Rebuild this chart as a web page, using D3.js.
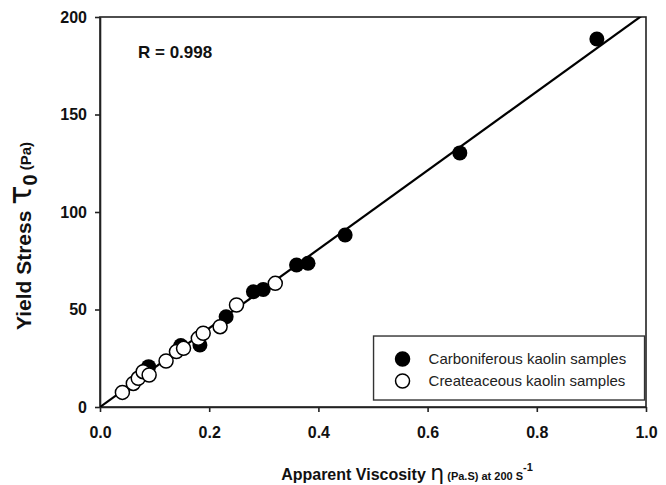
<!DOCTYPE html>
<html>
<head>
<meta charset="utf-8">
<script src="https://cdn.jsdelivr.net/npm/d3@7"></script>
<style>
  body { margin: 0; background: #fff; }
  text { font-family: Arial, "Liberation Sans", sans-serif; fill: #111; }
  .ejes path, .ejes line { stroke: #222; stroke-width: 1.6; }
  .ejes text { font-size: 16px; font-weight: bold; }
  .greek { font-family: "DejaVu Sans", sans-serif; font-weight: normal; }
</style>
</head>
<body>
<div id="graf"></div>
<script>
// Carboniferous (filled) samples: viscosity (Pa.S) and yield stress (Pa)
const carbVisc = [0.089, 0.148, 0.183, 0.231, 0.281, 0.299, 0.360, 0.381, 0.449, 0.659, 0.910]
const carbStress = [20.7, 31.5, 31.8, 46.3, 59.1, 60.3, 72.8, 73.7, 88.2, 130.3, 188.7]
// Createaceous (open) samples
const creaVisc = [0.041, 0.061, 0.070, 0.079, 0.090, 0.121, 0.140, 0.153, 0.180, 0.189, 0.220, 0.250, 0.321]
const creaStress = [7.5, 12.1, 14.7, 18.1, 16.4, 23.6, 28.4, 30.1, 35.2, 37.8, 41.2, 52.3, 63.4]
// regression line
const fitSlope = 202.2
const fitX = [0, 1.0]
const xTicks = [0, 0.2, 0.4, 0.6, 0.8, 1.0]
const yTicks = [0, 50, 100, 150, 200]
const rLabel = "R = 0.998"
const seriesNames = ["Carboniferous kaolin samples", "Createaceous kaolin samples"]

const margins = { left: 100, top: 17, right: 20, bottom: 78 }
const anchoTotal = 666
const altoTotal = 485
const ancho = anchoTotal - margins.left - margins.right
const alto = altoTotal - margins.top - margins.bottom

const svg = d3.select("#graf")
  .append("svg")
  .attr("width", anchoTotal)
  .attr("height", altoTotal)

const g = svg.append("g")
  .attr("transform", `translate(${margins.left}, ${margins.top})`)

const x = d3.scaleLinear().domain([0, 1]).range([0, ancho])
const y = d3.scaleLinear().domain([0, 200]).range([alto, 0])

g.append("clipPath")
  .attr("id", "clip")
  .append("rect")
  .attr("width", ancho)
  .attr("height", alto)

// frame
g.append("rect")
  .attr("width", ancho)
  .attr("height", alto)
  .attr("fill", "none")
  .attr("stroke", "#222")
  .attr("stroke-width", 1.6)

const xAxis = d3.axisBottom(x).tickValues(xTicks).tickFormat(d3.format(".1f")).tickSize(5).tickPadding(15).tickSizeOuter(0)
const yAxis = d3.axisLeft(y).tickValues(yTicks).tickFormat(d3.format("d")).tickSize(5).tickPadding(8).tickSizeOuter(0)

g.append("g")
  .attr("class", "ejes")
  .attr("transform", `translate(0, ${alto})`)
  .call(xAxis)
g.append("g").attr("class", "ejes").call(yAxis)

// regression line
const fitData = fitX.map((v) => ({ v: v, s: v * fitSlope }))
g.append("path")
  .datum(fitData)
  .attr("clip-path", "url(#clip)")
  .attr("fill", "none")
  .attr("stroke", "#000")
  .attr("stroke-width", 2.2)
  .attr("d", d3.line().x((d) => x(d.v)).y((d) => y(d.s)))

const carb = carbVisc.map((v, i) => ({ v: v, s: carbStress[i] }))
const crea = creaVisc.map((v, i) => ({ v: v, s: creaStress[i] }))

g.selectAll(".carb")
  .data(carb)
  .enter()
  .append("circle")
  .attr("class", "carb")
  .attr("cx", (d) => x(d.v))
  .attr("cy", (d) => y(d.s))
  .attr("r", 7.5)
  .attr("fill", "#000")

g.selectAll(".crea")
  .data(crea)
  .enter()
  .append("circle")
  .attr("class", "crea")
  .attr("cx", (d) => x(d.v))
  .attr("cy", (d) => y(d.s))
  .attr("r", 7)
  .attr("fill", "#fff")
  .attr("stroke", "#000")
  .attr("stroke-width", 1.5)

g.append("text")
  .attr("x", 38)
  .attr("y", 41)
  .style("font-size", "17px")
  .style("font-weight", "bold")
  .text(rLabel)

// legend
const leg = g.append("g").attr("transform", `translate(${x(0.501)}, ${y(36.4)})`)
leg.append("rect")
  .attr("width", 271)
  .attr("height", 64)
  .attr("fill", "#fff")
  .attr("stroke", "#333")
  .attr("stroke-width", 1.4)
seriesNames.forEach((name, i) => {
  leg.append("circle")
    .attr("cx", 29)
    .attr("cy", 23 + i * 22)
    .attr("r", 7)
    .attr("fill", i == 0 ? "#000" : "#fff")
    .attr("stroke", "#000")
    .attr("stroke-width", 1.5)
  leg.append("text")
    .attr("x", 55)
    .attr("y", 23 + i * 22)
    .attr("dy", "0.35em")
    .style("font-size", "15px")
    .style("fill", "#222")
    .text(name)
})

// axis titles
const xt = svg.append("text")
  .attr("x", 407)
  .attr("y", 480)
  .attr("text-anchor", "middle")
  .style("font-weight", "bold")
xt.append("tspan").style("font-size", "16px").text("Apparent Viscosity ")
xt.append("tspan").attr("class", "greek").style("font-size", "22px").text("η")
xt.append("tspan").style("font-size", "11px").text(" (Pa.S) at 200 S")
xt.append("tspan").style("font-size", "11px").attr("dy", -9).text("-1")

const yt = svg.append("text")
  .attr("transform", `translate(31, 236) rotate(-90)`)
  .attr("text-anchor", "middle")
  .style("font-weight", "bold")
yt.append("tspan").style("font-size", "21px").text("Yield Stress ")
yt.append("tspan").attr("class", "greek").style("font-size", "32px").text("τ")
yt.append("tspan").style("font-size", "20px").attr("dy", 6).text("0")
yt.append("tspan").style("font-size", "15px").attr("dy", -6).text(" (Pa)")
</script>
</body>
</html>
